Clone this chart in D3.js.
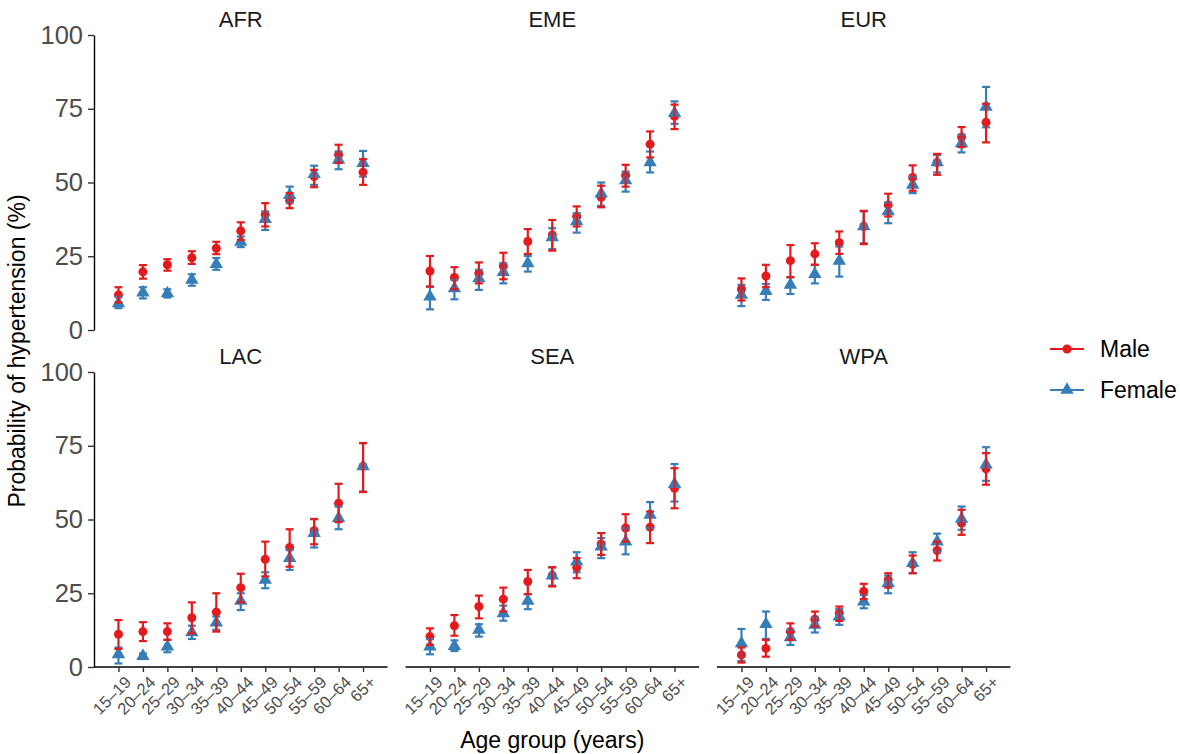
<!DOCTYPE html>
<html lang="en">
<head>
<meta charset="UTF-8">
<title>Probability of hypertension by age group</title>
<script src="https://cdn.jsdelivr.net/npm/d3@7"></script>
<style>
    body { margin: 0; background: #fff; }
    svg { font-family: "Liberation Sans", Arial, Helvetica, sans-serif; }
    .axis .domain, .axis line { stroke: #000; stroke-width: 1.4px; }
    .axis line { stroke: #333; }
    .axis text { fill: #4d4d4d; }
</style>
</head>
<body>
<div id="chart"></div>
<script>
const width = 1180;
const height = 754;

const ageGroups = ["15–19", "20–24", "25–29", "30–34", "35–39", "40–44",
                   "45–49", "50–54", "55–59", "60–64", "65+"];
const regions = ["AFR", "EME", "EUR", "LAC", "SEA", "WPA"];
const yTicks = [0, 25, 50, 75, 100];

// each entry: [estimate, lower, upper], one per age group
const afrMale   = [[11.9, 9.3, 14.5], [19.7, 17.4, 22.0], [22.1, 20.1, 24.0], [24.5, 22.4, 26.7], [27.7, 25.7, 29.9], [33.6, 30.5, 36.5], [39.1, 35.1, 43.0], [43.9, 41.3, 46.4], [52.0, 48.4, 54.3], [59.4, 56.6, 62.8], [53.5, 49.2, 57.9]];
const afrFemale = [[9.0, 7.4, 11.3], [12.7, 10.7, 14.5], [12.4, 11.0, 13.8], [17.0, 15.0, 18.9], [22.3, 20.4, 24.4], [29.9, 28.1, 31.7], [37.6, 33.9, 40.2], [45.7, 43.2, 48.6], [52.8, 49.2, 55.7], [57.7, 54.5, 60.5], [56.6, 52.0, 60.7]];
const emeMale   = [[20.0, 14.7, 25.1], [17.8, 13.8, 21.3], [19.2, 15.8, 22.9], [21.7, 17.2, 26.2], [30.0, 25.8, 34.2], [32.2, 26.9, 37.3], [38.5, 35.1, 41.9], [45.0, 41.6, 48.9], [52.4, 48.6, 56.0], [63.0, 58.5, 67.3], [72.4, 68.1, 76.4]];
const emeFemale = [[11.3, 7.0, 14.7], [14.1, 10.4, 17.0], [17.5, 13.6, 20.4], [19.6, 15.8, 22.6], [22.6, 19.8, 25.1], [31.4, 27.4, 34.5], [36.8, 33.0, 39.6], [46.2, 42.1, 50.0], [50.7, 46.9, 53.7], [56.8, 53.4, 60.5], [73.5, 69.9, 77.5]];
const eurMale   = [[13.8, 10.0, 17.5], [18.3, 14.5, 22.1], [23.5, 17.9, 28.8], [25.8, 22.1, 29.4], [29.6, 25.8, 33.4], [35.1, 29.1, 40.4], [42.4, 38.5, 46.2], [51.7, 47.2, 55.8], [56.8, 52.6, 59.7], [65.4, 62.0, 68.8], [70.4, 63.6, 76.7]];
const eurFemale = [[11.9, 8.1, 15.3], [13.2, 10.2, 15.6], [15.3, 12.2, 17.9], [18.9, 15.8, 22.1], [23.4, 18.1, 28.3], [35.1, 29.4, 40.2], [40.2, 36.2, 43.2], [49.2, 46.4, 51.9], [56.8, 53.4, 59.3], [63.3, 60.2, 66.2], [75.6, 68.7, 82.4]];
const lacMale   = [[11.1, 6.1, 15.9], [12.0, 8.8, 15.2], [12.0, 9.2, 14.8], [16.7, 11.4, 21.9], [18.6, 12.0, 25.0], [26.9, 21.9, 31.6], [36.5, 30.7, 42.5], [40.5, 34.0, 46.7], [46.2, 41.6, 50.1], [55.5, 49.1, 62.1], [68.0, 59.3, 75.9]];
const lacFemale = [[4.3, 1.2, 6.6], [3.7, 2.7, 4.6], [6.9, 5.0, 9.2], [11.7, 9.5, 14.0], [15.0, 12.6, 17.1], [22.4, 19.3, 25.0], [29.5, 26.7, 32.1], [36.9, 32.9, 39.7], [45.4, 40.5, 50.2], [50.5, 46.7, 54.4], [68.0, 59.5, 75.9]];
const seaMale   = [[10.3, 7.5, 13.1], [14.0, 10.6, 17.6], [20.5, 16.5, 24.2], [23.0, 18.8, 26.9], [29.0, 24.7, 32.9], [31.0, 27.3, 33.8], [33.7, 30.1, 36.9], [41.7, 38.0, 45.4], [47.1, 42.5, 51.8], [47.4, 42.0, 52.7], [60.6, 53.8, 67.4]];
const seaFemale = [[6.9, 4.3, 9.5], [7.1, 5.4, 9.0], [12.6, 10.3, 14.5], [18.2, 15.7, 20.8], [22.4, 19.6, 24.7], [31.0, 27.6, 33.8], [35.7, 32.1, 38.9], [40.8, 36.9, 43.7], [42.5, 38.2, 47.1], [51.6, 47.1, 55.9], [62.0, 56.1, 68.8]];
const wpaMale   = [[4.1, 1.5, 6.6], [6.3, 3.5, 9.2], [12.0, 9.2, 14.8], [16.2, 13.7, 18.8], [18.2, 15.6, 20.5], [25.6, 23.0, 28.2], [29.5, 26.9, 31.8], [34.8, 31.8, 37.8], [39.5, 36.1, 42.5], [48.8, 44.8, 53.3], [67.2, 61.8, 72.5]];
const wpaFemale = [[8.0, 2.0, 12.9], [14.5, 9.5, 18.8], [10.0, 7.5, 12.6], [14.3, 11.7, 16.7], [17.1, 14.3, 19.6], [22.2, 19.9, 24.4], [28.4, 25.0, 31.0], [35.2, 31.8, 38.9], [42.5, 39.1, 45.2], [50.2, 46.5, 54.4], [68.6, 63.1, 74.5]];

const maleSeries = [afrMale, emeMale, eurMale, lacMale, seaMale, wpaMale];
const femaleSeries = [afrFemale, emeFemale, eurFemale, lacFemale, seaFemale, wpaFemale];

const sexes = ["Male", "Female"];
const colors = { Male: "#E41A1C", Female: "#377EB8" };

const panelW = 293.5, panelH = 295;
const panelX = [94, 405.5, 717];
const panelY = [35, 372];

const svg = d3.select("#chart").append("svg")
    .attr("width", width)
    .attr("height", height);

const x = d3.scalePoint().domain(ageGroups).range([0, panelW]).padding(1);
const y = d3.scaleLinear().domain([0, 100]).range([panelH, 0]);

const circle = d3.symbol(d3.symbolCircle, 64);
const triangle = d3.symbol(d3.symbolTriangle, 78);
const shapeOf = s => s === "Male" ? circle() : triangle();

regions.forEach((region, i) => {
    const col = i % 3, row = Math.floor(i / 3);
    const g = svg.append("g")
        .attr("transform", `translate(${panelX[col]},${panelY[row]})`);

    g.append("text")
        .attr("x", panelW / 2)
        .attr("y", -16)
        .attr("dy", "0.35em")
        .attr("text-anchor", "middle")
        .style("font-size", "22px")
        .style("fill", "#1a1a1a")
        .text(region);

    if (col === 0) {
        const ya = g.append("g").attr("class", "axis")
            .call(d3.axisLeft(y).tickValues(yTicks).tickSize(6).tickSizeOuter(0).tickPadding(5));
        ya.selectAll("text").style("font-size", "25.5px");
    }
    if (row === 1) {
        const xa = g.append("g").attr("class", "axis")
            .attr("transform", `translate(0,${panelH})`)
            .call(d3.axisBottom(x).tickSize(5).tickSizeOuter(0));
        xa.select(".domain").attr("d", `M0,0H${panelW}`);
        xa.selectAll("text")
            .style("font-size", "16.5px")
            .style("text-anchor", "end")
            .attr("x", 0).attr("y", 0).attr("dy", "0.7em")
            .attr("transform", "translate(5,8) rotate(-45)");
    }

    const rows = sexes.map(s => ({
        sex: s,
        vals: (s === "Male" ? maleSeries[i] : femaleSeries[i]).map((v, k) => ({
            age: ageGroups[k], est: v[0], lo: v[1], hi: v[2]
        }))
    }));

    // points first, then error bars
    rows.forEach(r => {
        g.selectAll(null).data(r.vals).join("path")
            .attr("transform", d => `translate(${x(d.age)},${y(d.est)})`)
            .attr("d", shapeOf(r.sex))
            .attr("fill", colors[r.sex]);
    });
    rows.slice().reverse().forEach(r => {
        const eb = g.selectAll(null).data(r.vals).join("g")
            .attr("stroke", colors[r.sex])
            .attr("stroke-width", 2.2)
            .attr("transform", d => `translate(${x(d.age)},0)`);
        eb.append("line").attr("y1", d => y(d.lo)).attr("y2", d => y(d.hi));
        eb.append("line").attr("x1", -4).attr("x2", 4).attr("y1", d => y(d.lo)).attr("y2", d => y(d.lo));
        eb.append("line").attr("x1", -4).attr("x2", 4).attr("y1", d => y(d.hi)).attr("y2", d => y(d.hi));
    });
});

// axis titles
svg.append("text")
    .attr("transform", `translate(25,${(panelY[0] + panelY[1] + panelH) / 2}) rotate(-90)`)
    .attr("text-anchor", "middle")
    .style("font-size", "23px")
    .text("Probability of hypertension (%)");

svg.append("text")
    .attr("x", (panelX[0] + panelX[2] + panelW) / 2)
    .attr("y", 748)
    .attr("text-anchor", "middle")
    .style("font-size", "23px")
    .text("Age group (years)");

// legend
const legend = svg.append("g").attr("transform", "translate(1050,349)");
sexes.forEach((s, k) => {
    const lg = legend.append("g").attr("transform", `translate(0,${k * 41})`);
    lg.append("line").attr("x1", 0).attr("x2", 34)
        .attr("stroke", colors[s]).attr("stroke-width", 2.2);
    lg.append("path").attr("transform", "translate(17,0)")
        .attr("d", shapeOf(s)).attr("fill", colors[s]);
    lg.append("text").attr("x", 50).attr("dy", "0.35em")
        .style("font-size", "23px")
        .text(s);
});
</script>
</body>
</html>
